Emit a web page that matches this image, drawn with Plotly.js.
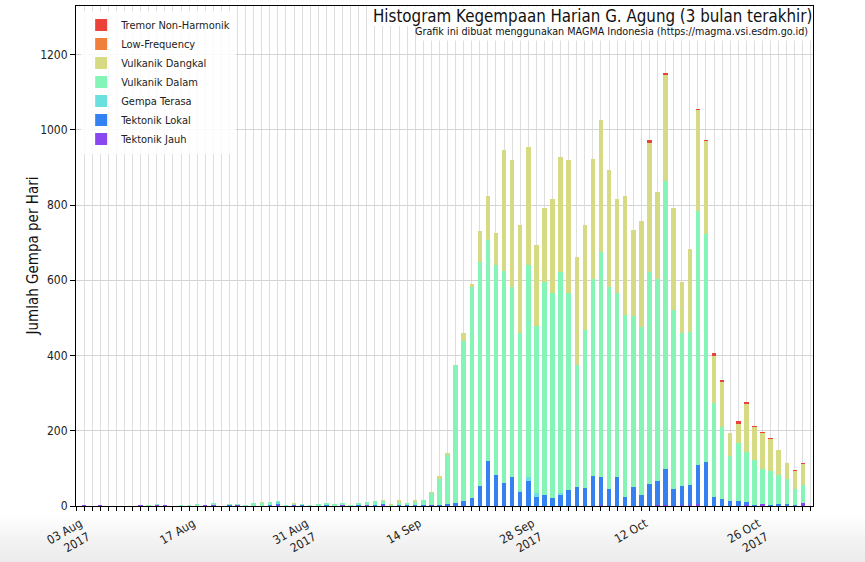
<!DOCTYPE html>
<html>
<head>
<meta charset="utf-8">
<script src="https://cdn.plot.ly/plotly-3.0.1.min.js"></script>
<style>
html,body{margin:0;padding:0;}
body{width:865px;height:562px;background:linear-gradient(to bottom,#ffffff 0px,#ffffff 516px,#f3f3f3 540px,#ebebeb 562px);}
#chart{width:865px;height:562px;}
</style>
</head>
<body>
<div id="chart"></div>
<script>
// Daily counts, 03 Aug 2017 .. 31 Oct 2017 (90 days)
const startDate = '2017-08-03';
const nDays = 90;

const tektonikJauh = [3,0,3,0,0,0,0,3,0,2, 3,0,0,0,0,3,2,0,0,2, 0,0,0,0,3,0,2,0,0,0, 0,0,2,0,0,2,0,3,0,0, 0,0,0,2,0,0,0,0,0,0, 0,0,0,0,0,0,0,0,0,0, 0,0,0,0,3,0,0,0,0,0, 0,3,3,0,3,3,6,0,0,0, 0,0,4,0,6,0,0,0,0,7];
const tektonikLokal = [0,0,0,0,0,0,0,0,0,0, 0,0,0,0,0,0,0,0,2,0, 0,0,0,2,3,0,0,2,0,0, 2,0,0,0,2,0,2,2,0,2, 2,2,2,1,2,5,7,12,20,54, 120,82,61,76,37,66,25,28,21,30, 43,51,48,81,73,46,78,25,50,30, 58,64,96,46,51,53,102,116,23,18, 12,12,7,4,0,4,6,6,4,0];
const gempaTerasa = [0,0,0,0,0,0,0,0,0,0, 0,0,0,0,0,0,0,0,0,0, 0,0,0,0,4,0,0,0,0,0, 0,0,0,0,0,0,0,0,0,0, 0,0,0,0,0,0,0,0,0,0, 0,0,0,0,4,10,10,0,0,4, 0,0,0,0,0,0,0,0,0,0, 0,0,0,0,0,0,0,0,0,0, 0,0,0,0,0,0,0,0,0,0];
const vulkanikDalam = [0,0,0,0,0,0,0,0,2,4, 0,0,2,3,6,0,7,0,4,4, 3,7,7,8,3,3,4,4,3,6, 6,6,7,3,5,8,10,8,2,6, 5,8,13,31,71,131,367,427,562,594, 587,558,564,505,418,564,444,568,544,588, 522,324,419,523,600,537,488,482,456,446, 565,536,765,475,405,407,677,607,250,193, 121,156,133,119,93,90,77,65,41,50];
const vulkanikDangkal = [0,0,0,0,0,0,0,0,0,0, 0,0,0,0,0,0,0,0,0,0, 0,0,3,0,0,0,3,0,0,0, 0,0,0,0,0,0,0,2,4,7, 0,5,0,3,8,4,2,21,9,84, 118,85,322,340,288,315,216,197,251,305, 356,288,280,319,351,310,251,318,228,281, 342,232,282,271,136,221,267,246,127,119, 60,51,128,86,96,83,66,44,49,55];
const lowFrequency = [0,0,0,0,0,0,0,0,0,0, 0,0,0,0,0,0,0,0,0,0, 0,0,0,0,0,0,0,0,0,0, 0,0,0,0,0,0,0,0,0,0, 0,0,0,0,0,0,0,0,0,0, 0,0,0,0,0,0,0,0,0,0, 0,0,0,0,0,0,0,0,0,0, 0,0,0,0,0,0,0,0,0,0, 0,0,0,0,0,0,0,0,0,0];
const tremorNonHarmonik = [0,0,0,0,0,0,0,0,0,0, 0,0,0,0,0,0,0,0,0,0, 0,0,0,0,0,0,0,0,0,0, 0,0,0,0,0,0,0,0,0,0, 0,0,0,0,0,0,0,0,0,0, 0,0,0,0,0,0,0,0,0,0, 0,0,0,0,0,0,0,0,0,0, 7,0,4,0,0,0,4,3,6,4, 0,6,4,3,3,3,0,0,3,2];

const seriesNames = ['Tektonik Jauh','Tektonik Lokal','Gempa Terasa','Vulkanik Dalam','Vulkanik Dangkal','Low-Frequency','Tremor Non-Harmonik'];
const seriesColors = ['#8a47f0','#3482f2','#6ce0df','#84f5b6','#d6da82','#f07f3e','#ea4238'];
const seriesValues = [tektonikJauh,tektonikLokal,gempaTerasa,vulkanikDalam,vulkanikDangkal,lowFrequency,tremorNonHarmonik];

const tickVals = ['2017-08-03','2017-08-17','2017-08-31','2017-09-14','2017-09-28','2017-10-12','2017-10-26'];
const tickText = ['03 Aug<br>2017','17 Aug','31 Aug<br>2017','14 Sep','28 Sep<br>2017','12 Oct','26 Oct<br>2017'];

const titleText = 'Histogram Kegempaan Harian G. Agung (3 bulan terakhir)';
const subtitleText = 'Grafik ini dibuat menggunakan MAGMA Indonesia (https://magma.vsi.esdm.go.id)';
const yTitleText = 'Jumlah Gempa per Hari';

// category dates
const dates = [];
const d0 = new Date(startDate + 'T00:00:00Z');
for (let i = 0; i < nDays; i++) {
  const d = new Date(d0.getTime() + i * 86400000);
  dates.push(d.toISOString().slice(0,10));
}

const DAY = 86400000;
const traces = seriesNames.map((name, k) => ({
  type: 'bar',
  name: name,
  x: dates,
  y: seriesValues[k],
  width: 0.55 * DAY,
  marker: {color: seriesColors[k], line: {width: 0}},
  hoverinfo: 'x+y+name'
}));

const FONT = '"Liberation Sans Narrow", "DejaVu Sans Condensed", Roboto, sans-serif';

const layout = {
  width: 865, height: 562,
  margin: {l: 76, r: 52, t: 6, b: 55.5},
  paper_bgcolor: 'rgba(0,0,0,0)',
  plot_bgcolor: '#ffffff',
  barmode: 'stack',
  bargap: 0,
  font: {family: FONT, size: 12, color: '#222'},
  showlegend: true,
  legend: {
    x: 0.007, y: 0.991, xanchor: 'left', yanchor: 'top',
    bgcolor: 'rgba(255,255,255,0.85)', borderwidth: 0,
    traceorder: 'reversed',
    font: {family: FONT, size: 11, color: '#222'},
    tracegroupgap: 0
  },
  xaxis: {
    type: 'date',
    range: ['2017-08-02 00:00', '2017-11-01 06:00'],
    tickmode: 'array', tickvals: tickVals, ticktext: tickText,
    tickangle: -30,
    ticklabelshift: -4, ticklabelstandoff: 1,
    ticks: 'outside', ticklen: 4, tickcolor: '#000', tickwidth: 1,
    showgrid: true, gridcolor: '#dedede', gridwidth: 1,
    minor: {dtick: DAY, tick0: '2017-08-03', ticks: 'outside', ticklen: 4, tickcolor: '#000', showgrid: true, gridcolor: '#dedede', gridwidth: 1},
    showline: true, linecolor: '#000', linewidth: 1, mirror: true,
    zeroline: false,
    tickfont: {family: FONT, size: 12, color: '#222'}
  },
  yaxis: {
    range: [0, 1329],
    tickvals: [0,200,400,600,800,1000,1200],
    ticks: 'outside', ticklen: 5, tickcolor: '#000',
    showgrid: true, gridcolor: '#d4d4d4', gridwidth: 1,
    showline: true, linecolor: '#000', linewidth: 1, mirror: true,
    zeroline: false,
    tickfont: {family: FONT, size: 12, color: '#222'}
  },
  shapes: [
    {type: 'rect', xref: 'paper', yref: 'paper', layer: 'above',
     x0: 0.396, x1: 0.9985, y0: 0.960, y1: 0.9985,
     fillcolor: '#ffffff', line: {width: 0}},
    {type: 'rect', xref: 'paper', yref: 'paper', layer: 'above',
     x0: 0.4627, x1: 0.9985, y0: 0.931, y1: 0.961,
     fillcolor: '#ffffff', line: {width: 0}}
  ],
  annotations: [
    {text: titleText, xref: 'paper', yref: 'paper',
     x: 1, y: 0.981, xanchor: 'right', yanchor: 'middle', xshift: 0, showarrow: false,
     borderpad: 0,
     font: {family: FONT, size: 16.8, color: '#111'}},
    {text: subtitleText, xref: 'paper', yref: 'paper',
     x: 1, y: 0.949, xanchor: 'right', yanchor: 'middle', xshift: -4, showarrow: false,
     borderpad: 0,
     font: {family: FONT, size: 10.7, color: '#111'}},
    {text: yTitleText, xref: 'paper', yref: 'paper',
     x: -0.059, y: 0.5, xanchor: 'center', yanchor: 'middle', textangle: -90, showarrow: false,
     font: {family: FONT, size: 15, color: '#111'}}
  ]
};

Plotly.newPlot('chart', traces, layout, {displayModeBar: false, staticPlot: true});
</script>
</body>
</html>
